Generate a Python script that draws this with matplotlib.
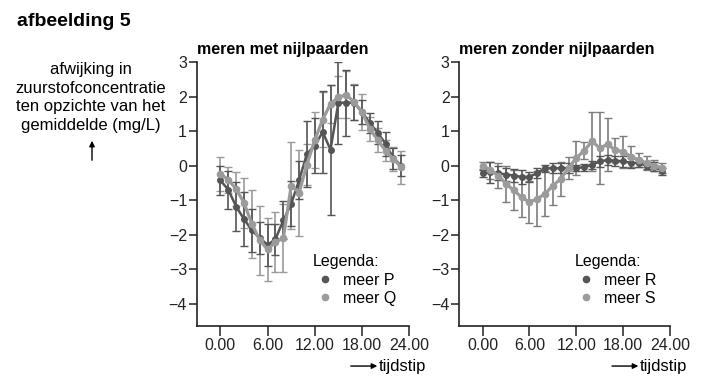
import matplotlib.pyplot as plt
from matplotlib.lines import Line2D
from matplotlib.patches import FancyArrowPatch

plt.rcParams['font.family'] = ['Liberation Sans', 'DejaVu Sans']

# tijdstip (uur)
hours = list(range(24))

# meren met nijlpaarden
meer_p = [-0.43, -0.70, -1.19, -1.55, -1.88, -2.10, -2.30, -2.13, -1.59, -1.11, -0.43, 0.34,
          0.58, 0.97, 0.46, 1.82, 1.82, 1.82, 1.55, 1.23, 0.95, 0.63, 0.21, 0.00]
meer_p_err = [0.42, 0.55, 0.70, 0.77, 0.63, 0.45, 0.60, 0.45, 0.55, 0.65, 0.55, 0.96,
              0.80, 1.18, 1.88, 1.19, 0.95, 0.50, 0.35, 0.30, 0.33, 0.35, 0.30, 0.30]
meer_q = [-0.24, -0.41, -0.68, -1.08, -1.69, -2.17, -2.43, -2.22, -2.10, -0.58, -0.79, 0.03,
          0.74, 1.33, 1.79, 1.98, 2.05, 1.84, 1.55, 1.06, 0.74, 0.43, 0.19, -0.05]
meer_q_err = [0.50, 0.38, 0.50, 0.72, 0.98, 1.00, 0.92, 0.87, 0.98, 1.25, 1.24, 0.60,
              0.80, 0.80, 0.55, 0.60, 0.68, 0.53, 0.53, 0.35, 0.35, 0.30, 0.35, 0.48]

# meren zonder nijlpaarden
meer_r = [-0.22, -0.20, -0.22, -0.26, -0.29, -0.33, -0.33, -0.21, -0.08, -0.08, -0.08, -0.07,
          -0.07, -0.05, 0.02, 0.12, 0.16, 0.14, 0.12, 0.08, 0.07, 0.00, -0.03, -0.16]
meer_r_err = [0.10, 0.30, 0.20, 0.20, 0.20, 0.20, 0.15, 0.15, 0.10, 0.15, 0.15, 0.15,
              0.10, 0.10, 0.12, 0.15, 0.15, 0.15, 0.15, 0.15, 0.10, 0.10, 0.12, 0.10]
meer_s = [0.00, -0.14, -0.29, -0.53, -0.72, -0.92, -1.06, -0.96, -0.82, -0.58, -0.39, -0.07,
          0.22, 0.43, 0.70, 0.51, 0.61, 0.45, 0.40, 0.26, 0.16, 0.07, 0.00, -0.07]
meer_s_err = [0.10, 0.25, 0.37, 0.53, 0.58, 0.58, 0.61, 0.80, 0.65, 0.55, 0.48, 0.32,
              0.50, 0.25, 0.85, 1.05, 0.78, 0.35, 0.47, 0.30, 0.20, 0.20, 0.15, 0.15]

xticks = [0, 6, 12, 18, 24]
xticklabels = ['0.00', '6.00', '12.00', '18.00', '24.00']
yticks = [3, 2, 1, 0, -1, -2, -3, -4]

dark = '#555555'
light = '#9b9b9b'

fig = plt.figure(figsize=(7.03, 3.82), dpi=100)
ax1 = fig.add_axes([0.280, 0.1474, 0.302, 0.6903])
ax2 = fig.add_axes([0.6533, 0.1474, 0.2997, 0.6903])


def draw_panel(ax, a, a_err, b, b_err, name_a, name_b, title, b_ecolor):
    ax.errorbar(hours, b, yerr=b_err, fmt='none', ecolor=b_ecolor, elinewidth=1.2,
                capsize=3, capthick=1.0)
    ax.errorbar(hours, a, yerr=a_err, fmt='none', ecolor=dark, elinewidth=1.2,
                capsize=3, capthick=1.0)
    ax.plot(hours, a, color=dark, lw=1.8, marker='o', ms=4)
    ax.plot(hours, b, color=light, lw=2.3, marker='o', ms=4.5)

    ax.set_xlim(-3, 24)
    ax.set_ylim(-4.64, 3)
    ax.set_xticks(xticks)
    ax.set_xticklabels(xticklabels)
    ax.set_yticks(yticks)
    ax.set_yticklabels([str(t).replace('-', '\u2212') for t in yticks])
    for s in ['top', 'right']:
        ax.spines[s].set_visible(False)
    for s in ['left', 'bottom']:
        ax.spines[s].set_linewidth(1.2)
        ax.spines[s].set_color('#222222')
    ax.tick_params(axis='both', direction='out', width=1.1,
                   labelsize=11.5, colors='#222222')
    ax.tick_params(axis='x', length=7, pad=2)
    ax.tick_params(axis='y', length=6, pad=1)

    handles = [Line2D([], [], ls='none', marker='o', ms=4.5, color=dark),
               Line2D([], [], ls='none', marker='o', ms=4.5, color=light)]
    leg = ax.legend(handles, [name_a, name_b], title='Legenda:', loc='lower right',
                    bbox_to_anchor=(0.975, 0.045), frameon=False, fontsize=11.5,
                    title_fontsize=11.5, handlelength=1.45, handletextpad=0.4,
                    labelspacing=0.2, borderpad=0)
    leg._legend_box.align = 'left'

    ax.text(0, 1.018, title, transform=ax.transAxes, fontsize=11.5, fontweight='bold',
            ha='left', va='bottom')

    ax.annotate('', xy=(0.85, -0.153), xytext=(0.725, -0.153), xycoords='axes fraction',
                arrowprops=dict(arrowstyle='-|>', color='black', lw=1.0,
                                mutation_scale=8, shrinkA=0, shrinkB=0))
    ax.text(0.858, -0.153, 'tijdstip', transform=ax.transAxes, fontsize=12,
            ha='left', va='center')


draw_panel(ax1, meer_p, meer_p_err, meer_q, meer_q_err, 'meer P', 'meer Q',
           'meren met nijlpaarden', light)
draw_panel(ax2, meer_r, meer_r_err, meer_s, meer_s_err, 'meer R', 'meer S',
           'meren zonder nijlpaarden', '#7d7d7d')

fig.text(17 / 703, 1 - 21 / 382, 'afbeelding 5', fontsize=14, fontweight='bold',
         ha='left', va='center')
fig.text(91 / 703, 1 - 97.5 / 382,
         'afwijking in\nzuurstofconcentratie\nten opzichte van het\ngemiddelde (mg/L)',
         fontsize=12, ha='center', va='center', linespacing=1.28)
fig.patches.append(FancyArrowPatch(
    (92 / 703, 1 - 163 / 382), (92 / 703, 1 - 138 / 382), transform=fig.transFigure,
    arrowstyle='-|>', mutation_scale=8, color='black', lw=1.0))

fig.savefig('out.png', dpi=100)
